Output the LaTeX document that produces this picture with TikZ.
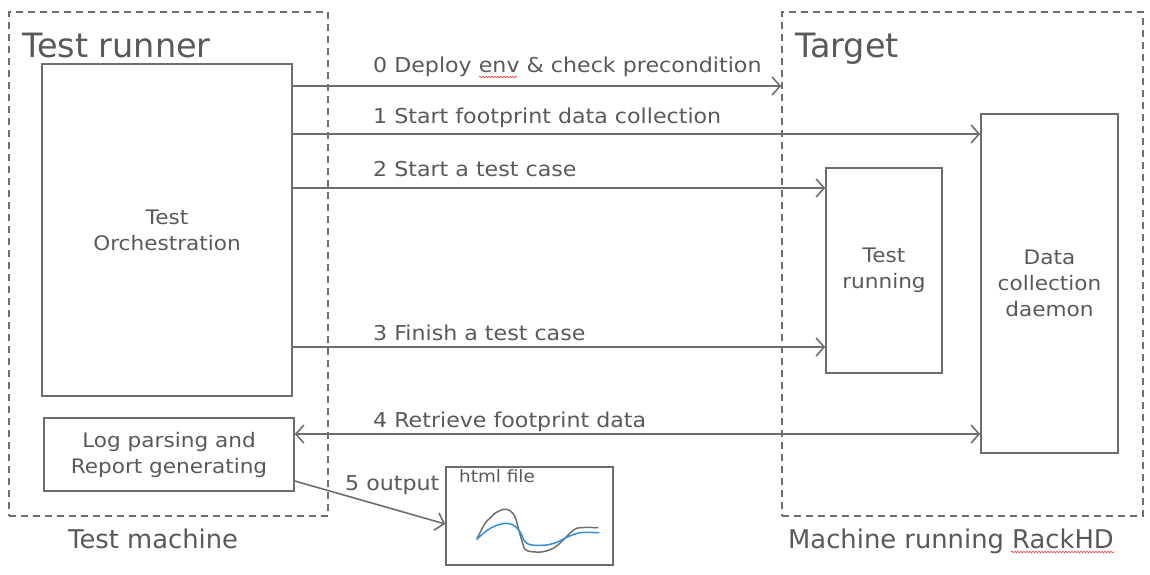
\documentclass[tikz,border=0pt]{standalone}
\usepackage{fontspec}
\setmainfont{DejaVu Sans}
\newfontfamily\widefont{DejaVu Sans}[FakeStretch=1.08]
\usetikzlibrary{arrows.meta,positioning,decorations.pathmorphing}
\definecolor{linegray}{HTML}{6E6E6E}
\definecolor{txtgray}{HTML}{595959}
\definecolor{curveblue}{HTML}{2F8FDD}
\tikzset{
  zone/.style ={draw=linegray, line width=1.6pt, dash pattern=on 7pt off 5pt, inner sep=0pt},
  box/.style  ={draw=linegray, line width=1.6pt, align=center, text=txtgray, font=\widefont\fontsize{20}{26}\selectfont, inner sep=0pt},
  ttl/.style  ={text=txtgray, font=\fontsize{33.5}{36}\selectfont, anchor=base west, inner sep=0pt},
  sub/.style  ={text=txtgray, font=\fontsize{25.8}{28}\selectfont, anchor=base west, inner sep=0pt},
  lbl/.style  ={text=txtgray, font=\widefont\fontsize{20.5}{23}\selectfont, anchor=base west, inner sep=0pt},
  arr/.style  ={-{Straight Barb[length=8pt,width=18pt]}, line width=1.6pt, draw=linegray},
  darr/.style ={{Straight Barb[length=8pt,width=18pt]}-{Straight Barb[length=8pt,width=18pt]}, line width=1.6pt, draw=linegray},
  squig/.style={draw=red!80, line width=0.6pt, decorate, decoration={snake, amplitude=0.8pt, segment length=3pt}},
}

\begin{document}
\begin{tikzpicture}[x=1pt, y=-1pt]
  \useasboundingbox (0,0) rectangle (1150,575);
  % machines
  \node[zone, minimum width=319pt, minimum height=504pt] (runner) at (168.5,264) {};
  \node[zone, minimum width=361pt, minimum height=504pt] (target) at (962.5,264) {};
  \node[ttl] (runnerttl) at (22,58) {Test runner};
  \node[ttl] (targetttl) at (795,58) {Target};
  \node[sub] (machl) at (68,548) {Test machine};
  \node[sub] (machr) at (788,548) {Machine running RackHD};
  % boxes
  \node[box, minimum width=250pt, minimum height=332pt] (orch) at (167,230) {Test\\Orchestration};
  \node[box, minimum width=250pt, minimum height=73pt] (log) at (169,454.5) {Log parsing and\\Report generating};
  \node[box, minimum width=116pt, minimum height=205pt] (run) at (884,270.5) {Test\\running};
  \node[box, minimum width=137pt, minimum height=339pt] (daemon) at (1049.5,283.5) {Data\\collection\\daemon};
  \node[box, minimum width=167pt, minimum height=98pt] (html) at (529.5,516) {};
  \node[lbl, font=\widefont\fontsize{17}{20}\selectfont] (htmltxt) at (459,482) {html file};
  % chart in the html file
  \draw[linegray, line width=1.5pt] plot[smooth] coordinates {(476.7,539.3) (485,523.3) (490,518.3) (495,513.3) (503.3,509.3) (510,510.7) (515,516.7) (518.3,528.3) (521.7,540) (525,549.3) (531.7,551.7) (543.3,551.7) (555,547.3) (565,538.3) (576.7,528.3) (598.3,527.7)};
  \draw[curveblue, line width=1.5pt] plot[smooth] coordinates {(476.7,539.3) (486.7,530.7) (495,526) (505,523.3) (513.3,525) (520,531.7) (525,541.7) (531.7,545) (546.7,545) (558.3,541.7) (566.7,537.3) (580,532.7) (599.3,532.7)};
  % steps
  \draw[arr] (orch.east |- 0,86) -- (target.west |- 0,86);
  \draw[arr] (orch.east |- 0,134) -- (daemon.west |- 0,134);
  \draw[arr] (orch.east |- 0,188) -- (run.west |- 0,188);
  \draw[arr] (orch.east |- 0,347) -- (run.west |- 0,347);
  \draw[darr] (log.east |- 0,434) -- (daemon.west |- 0,434);
  \draw[arr] (log.east |- 0,481) -- (html.west |- 0,524);
  \node[lbl] (s0) at (373,73) {0 Deploy env \& check precondition};
  \node[lbl] (s1) at (373,124) {1 Start footprint data collection};
  \node[lbl] (s2) at (373,176) {2 Start a test case};
  \node[lbl] (s3) at (373,340) {3 Finish a test case};
  \node[lbl] (s4) at (373,427) {4 Retrieve footprint data};
  \node[lbl] (s5) at (345,490) {5 output};
  % spell-check marks
  \draw[squig] (479,77) -- (517,77);
  \draw[squig] (1011,552) -- (1114,552);
\end{tikzpicture}
\end{document}
